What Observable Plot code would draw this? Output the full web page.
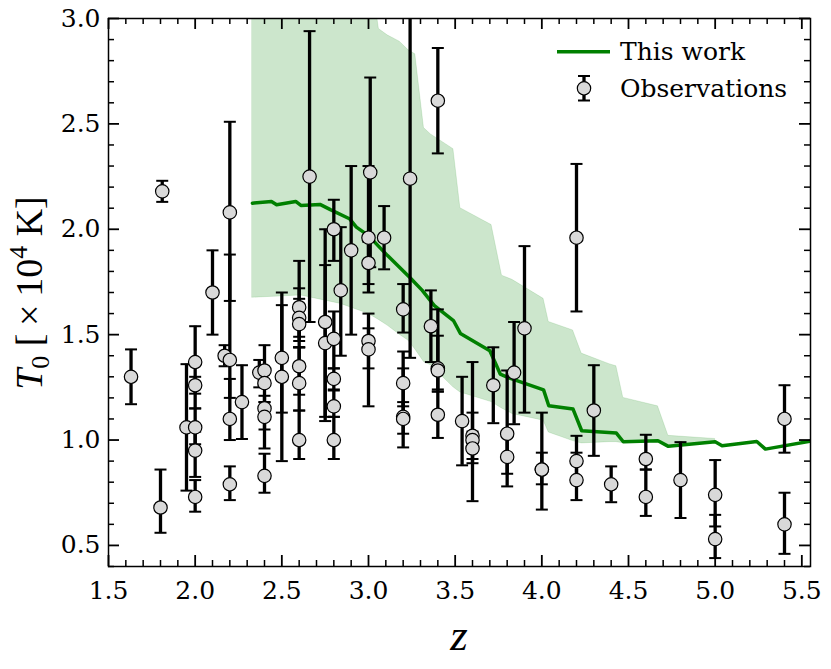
<!DOCTYPE html>
<html><head><meta charset="utf-8">
<script src="https://cdn.jsdelivr.net/npm/d3@7"></script>
<script src="https://cdn.jsdelivr.net/npm/@observablehq/plot@0.6"></script>
<style>
body{margin:0;background:#fff;}
#chart{width:831px;height:669px;}
</style></head><body><div id="chart"></div>
<script>
// "This work" model: median curve
const modelZ = [2.33, 2.44, 2.47, 2.58, 2.61, 2.72, 2.78, 2.89, 2.93, 3.00, 3.11, 3.24, 3.31, 3.38, 3.49, 3.53, 3.70, 3.73, 3.76, 3.81, 4.01, 4.04, 4.18, 4.23, 4.43, 4.47, 4.67, 4.73, 5.00, 5.04, 5.24, 5.29, 5.55];
const modelT = [2.124, 2.132, 2.116, 2.132, 2.113, 2.118, 2.093, 2.05, 2.01, 1.97, 1.875, 1.77, 1.71, 1.638, 1.567, 1.506, 1.424, 1.369, 1.313, 1.295, 1.238, 1.163, 1.147, 1.044, 1.033, 0.992, 0.997, 0.970, 0.992, 0.973, 0.993, 0.957, 0.995];
// model uncertainty band
const bandZ  = [2.33, 2.61, 2.84, 3.00, 3.06, 3.11, 3.18, 3.23, 3.27, 3.32, 3.36, 3.49, 3.53, 3.71, 3.77, 3.83, 4.01, 4.04, 4.18, 4.23, 4.39, 4.43, 4.47, 4.67, 4.73, 5.00];
const bandHi = [3.30, 3.30, 3.30, 3.30, 2.95, 2.92, 2.89, 2.85, 2.83, 2.48, 2.45, 2.38, 2.10, 2.02, 1.78, 1.76, 1.67, 1.56, 1.52, 1.41, 1.36, 1.35, 1.20, 1.16, 1.02, 1.005];
const bandLo = [1.675, 1.686, 1.646, 1.599, 1.57, 1.543, 1.50, 1.472, 1.43, 1.37, 1.355, 1.25, 1.226, 1.18, 1.15, 1.124, 1.092, 1.036, 0.995, 0.984, 0.99, 0.99, 0.985, 0.99, 0.968, 0.99];
// observations
const obsZ = [1.63,1.81,1.80,1.95,2.00,2.00,2.00,2.00,2.00,2.10,
  2.20,2.17,2.20,2.20,2.20,2.27,2.37,2.40,2.40,2.40,
  2.40,2.40,2.50,2.50,2.60,2.60,2.60,2.60,2.60,2.60,
  2.66,2.75,2.75,2.80,2.80,2.80,2.80,2.80,2.84,2.90,
  3.01,3.00,3.00,3.00,3.00,3.09,3.24,3.20,3.20,3.20,
  3.20,3.36,3.40,3.40,3.40,3.40,3.54,3.60,3.60,3.60,
  3.72,3.80,3.80,3.84,3.90,4.00,4.00,4.20,4.20,4.20,
  4.30,4.40,4.60,4.60,4.80,5.00,5.00,5.40,5.40];
const obsT = [1.30,2.18,0.68,1.06,1.37,1.26,1.06,0.95,0.73,1.70,
  2.08,1.40,1.38,1.10,0.79,1.18,1.32,1.33,1.27,1.15,
  1.11,0.83,1.39,1.30,1.63,1.58,1.55,1.35,1.27,1.00,
  2.25,1.56,1.46,2.00,1.48,1.29,1.16,1.00,1.71,1.90,
  2.27,1.96,1.84,1.47,1.43,1.96,2.24,1.62,1.27,1.11,
  1.10,1.54,2.61,1.34,1.33,1.12,1.09,1.02,1.00,0.96,
  1.26,1.03,0.92,1.32,1.53,0.86,0.86,1.96,0.90,0.81,
  1.14,0.79,0.91,0.73,0.81,0.74,0.53,1.10,0.60];
const obsErrUp = [0.13,0.05,0.18,0.30,0.17,0.04,0.09,0.09,0.08,0.20,
  0.43,0.05,0.50,0.19,0.085,0.175,0.06,0.12,0.05,0.06,
  0.07,0.105,0.31,0.34,0.22,0.14,0.12,0.09,0.17,0.14,
  0.69,0.27,0.54,0.14,0.13,0.05,0.08,0.11,0.30,0.40,
  0.45,0.34,0.10,0.13,0.10,0.15,0.85,0.12,0.15,0.07,
  0.24,0.17,0.25,0.28,0.165,0.11,0.21,0.35,0.13,0.08,
  0.18,0.30,0.11,0.24,0.39,0.27,0.08,0.35,0.12,0.13,
  0.215,0.085,0.115,0.13,0.18,0.165,0.115,0.16,0.15];
const obsErrLo = [0.13,0.05,0.12,0.30,0.15,0.11,0.08,0.125,0.07,0.20,
  0.42,0.05,0.18,0.10,0.075,0.175,0.07,0.06,0.09,0.10,
  0.15,0.08,0.26,0.40,0.14,0.11,0.11,0.135,0.13,0.09,
  0.69,0.45,0.37,0.15,0.14,0.055,0.05,0.09,0.31,0.40,
  0.45,0.26,0.10,0.13,0.27,0.15,0.85,0.11,0.11,0.08,
  0.135,0.17,0.25,0.11,0.09,0.11,0.21,0.11,0.11,0.25,
  0.18,0.19,0.14,0.245,0.40,0.19,0.07,0.35,0.09,0.095,
  0.215,0.085,0.05,0.09,0.18,0.15,0.09,0.16,0.14];
// ticks
const xTicks = [1.5, 2.0, 2.5, 3.0, 3.5, 4.0, 4.5, 5.0, 5.5];
const yTicks = [0.5, 1.0, 1.5, 2.0, 2.5, 3.0];
const xMinor = d3.range(16, 56).map(d => d / 10).filter(d => !xTicks.includes(d));
const yMinor = d3.range(4, 31).map(d => d / 10).filter(d => !yTicks.includes(d));

const model = modelZ.map((z, i) => ({z, T: modelT[i]}));
const band = bandZ.map((z, i) => ({z, lo: bandLo[i], hi: bandHi[i]}));
const obs = obsZ.map((z, i) => ({z, T: obsT[i], top: obsT[i] + obsErrUp[i], bot: obsT[i] - obsErrLo[i]}));

const W = 831, H = 669, ML = 108, MR = 21, MT = 18, MB = 103;
const innerW = W - ML - MR, innerH = H - MT - MB;
const MAJ = 11, MIN = 6;

const capSymbol = {draw(ctx) { ctx.moveTo(-6, 0); ctx.lineTo(6, 0); }};
const serif = "DejaVu Serif";
const FS = 25;

// inward tick marks on all four sides
function xTickMarks(values, len, sw) {
  return [
    Plot.ruleX(values, {x: d => d, insetTop: innerH - len, stroke: "black", strokeWidth: sw}),
    Plot.ruleX(values, {x: d => d, insetBottom: innerH - len, stroke: "black", strokeWidth: sw})
  ];
}
function yTickMarks(values, len, sw) {
  return [
    Plot.ruleY(values, {y: d => d, insetRight: innerW - len, stroke: "black", strokeWidth: sw}),
    Plot.ruleY(values, {y: d => d, insetLeft: innerW - len, stroke: "black", strokeWidth: sw})
  ];
}

const chart = Plot.plot({
  width: W, height: H,
  marginLeft: ML, marginRight: MR, marginTop: MT, marginBottom: MB,
  x: {domain: [1.5, 5.55]},
  y: {domain: [0.4, 3.0]},
  style: {fontFamily: serif, fontSize: FS + "px", color: "black", background: "white"},
  marks: [
    Plot.areaY(band, {x: "z", y1: "lo", y2: "hi", fill: "green", fillOpacity: 0.2, stroke: "green", strokeOpacity: 0.12, strokeWidth: 1, clip: true}),
    Plot.line(model, {x: "z", y: "T", stroke: "green", strokeWidth: 3.5, clip: true}),
    Plot.ruleX(obs, {x: "z", y1: "bot", y2: "top", stroke: "black", strokeWidth: 3.3, clip: true}),
    Plot.dot(obs, {x: "z", y: "top", symbol: capSymbol, fill: "none", stroke: "black", strokeWidth: 2, clip: true}),
    Plot.dot(obs, {x: "z", y: "bot", symbol: capSymbol, fill: "none", stroke: "black", strokeWidth: 2, clip: true}),
    Plot.dot(obs, {x: "z", y: "T", r: 6.7, fill: "#d9d9d9", stroke: "black", strokeWidth: 1.2}),
    ...xTickMarks(xTicks, MAJ, 1.8),
    ...xTickMarks(xMinor, MIN, 1.5),
    ...yTickMarks(yTicks, MAJ, 1.8),
    ...yTickMarks(yMinor, MIN, 1.5),
    Plot.axisX(xTicks, {anchor: "bottom", tickSize: 0, tickPadding: 14.5, tickFormat: d => d.toFixed(1), label: null}),
    Plot.axisY(yTicks, {anchor: "left", tickSize: 0, tickPadding: 8, tickFormat: d => d.toFixed(1), label: null}),
    Plot.frame({stroke: "black", strokeWidth: 1.5})
  ]
});
document.getElementById("chart").appendChild(chart);

const svg = d3.select(chart);
// axis labels
svg.append("text")
  .attr("x", 459).attr("y", 650)
  .attr("text-anchor", "middle")
  .attr("font-family", "Liberation Serif").attr("font-style", "italic").attr("font-size", 45)
  .attr("fill", "black")
  .text("z");
const yl = svg.append("text")
  .attr("transform", "translate(42,293) rotate(-90)")
  .attr("text-anchor", "middle")
  .attr("font-family", "Liberation Serif").attr("font-size", 38).attr("fill", "black");
yl.append("tspan").attr("font-style", "italic").text("T");
yl.append("tspan").attr("font-size", 26).attr("dy", 7).text("0");
yl.append("tspan").attr("dy", -7).text(" [\u2009×\u200910");
yl.append("tspan").attr("font-size", 26).attr("dy", -15).text("4");
yl.append("tspan").attr("dy", 15).text(" K]");

// legend
const lg = svg.append("g").attr("font-family", serif).attr("font-size", FS).attr("fill", "black").attr("text-anchor", "start");
lg.append("line").attr("x1", 557).attr("x2", 610).attr("y1", 51.7).attr("y2", 51.7)
  .attr("stroke", "green").attr("stroke-width", 3.5);
lg.append("text").attr("x", 620).attr("y", 60).attr("text-anchor", "start").text("This work");
lg.append("line").attr("x1", 584).attr("x2", 584).attr("y1", 76).attr("y2", 100.5)
  .attr("stroke", "black").attr("stroke-width", 3.3);
lg.append("line").attr("x1", 578).attr("x2", 590).attr("y1", 76).attr("y2", 76).attr("stroke", "black").attr("stroke-width", 2);
lg.append("line").attr("x1", 578).attr("x2", 590).attr("y1", 100.5).attr("y2", 100.5).attr("stroke", "black").attr("stroke-width", 2);
lg.append("circle").attr("cx", 584).attr("cy", 88.3).attr("r", 6.7)
  .attr("fill", "#d9d9d9").attr("stroke", "black").attr("stroke-width", 1.2);
lg.append("text").attr("x", 620).attr("y", 96.7).attr("text-anchor", "start").text("Observations");
</script>
</body></html>
